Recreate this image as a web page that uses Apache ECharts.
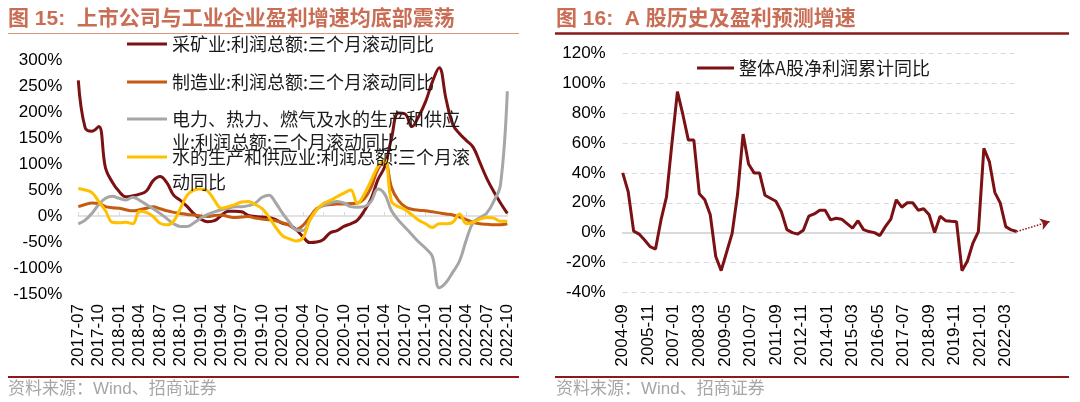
<!DOCTYPE html>
<html>
<head>
<meta charset="utf-8">
<script src="https://cdn.jsdelivr.net/npm/echarts@6/dist/echarts.min.js"></script>
<style>
html, body { margin: 0; padding: 0; background: #fff; }
#main { width: 1080px; height: 402px; }
</style>
</head>
<body>
<div id="main"></div>
<script>
/* ---------- 数据 ---------- */
// 图15：月度，2017-07 ~ 2022-10
var leftStart = '2017-07', leftEnd = '2022-10';
var seriesNames = [
    '采矿业:利润总额:三个月滚动同比',
    '制造业:利润总额:三个月滚动同比',
    '电力、热力、燃气及水的生产和供应业:利润总额:三个月滚动同比',
    '水的生产和供应业:利润总额:三个月滚动同比'
];
var mining = [261,170,163,172,92,65,47,37,39,42,48,68,76,64,40,30,18,4,-6,-11,
    -9,1,9,9,8,1,-1,-2,-3,-7,-14,-17,-26,-40,-51,-50,-45,-32,-28,-20,
    -15,-8,10,33,70,95,150,198,196,172,192,220,258,285,225,176,158,145,132,102,
    72,47,25,5];
var manufacturing = [18,22,25,24,18,16,15,12,10,12,15,18,14,10,7,5,3,2,0,-1,
    1,2,-1,-3,-2,-1,-4,-6,-7,-9,-13,-18,-26,-18,-2,14,20,22,23,23,
    24,25,33,55,90,105,55,30,18,13,11,10,8,6,4,2,-2,-7,-12,-15,
    -16,-17,-17,-15];
var utilities = [-15,-8,5,22,34,38,34,31,36,30,22,14,5,-5,-15,-20,-20,-13,-4,3,
    8,12,15,18,18,20,25,36,40,25,5,-12,-27,-28,-8,12,21,25,28,25,
    18,17,18,28,52,42,10,-8,-22,-36,-50,-62,-78,-138,-128,-108,-86,-45,-12,-3,
    6,28,60,240];
var water = [53,50,45,28,10,-12,-13,-12,-15,9,7,-1,-14,-17,-10,15,40,50,52,48,
    30,15,18,22,27,28,22,14,-2,-22,-38,-44,-48,-42,-8,12,24,30,37,44,
    50,24,42,68,95,108,28,18,12,2,-8,-15,-22,-15,-15,-12,4,-15,-12,-6,
    -3,-4,-10,-10];
var leftColors = ['#7B1113', '#C55A11', '#A6A6A6', '#FFC000'];

// 图16：季度，2004-09 ~ 2022-09
var rightStart = '2004-09', rightEnd = '2022-09';
var rightName = '整体A股净利润累计同比';
var aShare = [40,27.5,1,-1,-5,-9.4,-11,8.5,24,60,94.5,79,62,62,26,22,12,-16,-25.5,-13,
    -0.5,26,66,46,40,40,25,23,21,14,2,0,-1,1.5,11,12.5,15,15,8.5,9.6,
    9,6,3,8,2,0.7,0,-2,4,9,22,17,20,20,15,16,12,0,11,8,
    7.6,7.3,-25.5,-19,-7,0.7,56.5,47.6,27,19.7,4,1.8,0.7];
var forecastDates = ['2022-09', '2024-03'];
var forecastValues = [0.7, 7.4];

var leftTicks = [-150, 300, 50];   // min, max, interval
var rightTicks = [-40, 120, 20];

/* ---------- 工具 ---------- */
function monthRange(start, end, step) {
    var out = [];
    var y = +start.slice(0, 4), m = +start.slice(5, 7);
    while (true) {
        var s = y + '-' + (m < 10 ? '0' + m : m);
        out.push(s);
        if (s >= end) break;
        m += step;
        while (m > 12) { m -= 12; y++; }
    }
    return out;
}

var leftMonths = monthRange(leftStart, leftEnd, 1);
var rightMonths = monthRange(rightStart, rightEnd, 1);
var quarterDates = monthRange(rightStart, rightEnd, 3);
var fcMonths = monthRange(rightStart, forecastDates[1], 1);

var LATIN = "'Liberation Sans', Arial, 'Noto Sans CJK SC', sans-serif";
var CJK = "'Noto Sans CJK SC', 'Liberation Sans', sans-serif";

// 右图网格
var RX = 622.7, RW = 394, RTOP = 53.5, RH = 238.8;
var fcWidth = RW * (fcMonths.length - 1) / (rightMonths.length - 1);

function catAxisLabels(grid, data, interval, margin) {
    return {
        type: 'category', gridIndex: grid, data: data, boundaryGap: false,
        axisLine: { show: false, onZero: false },
        axisTick: { show: false },
        splitLine: { show: false },
        axisLabel: { interval: interval, rotate: 90, fontSize: 17, color: '#000', margin: margin, fontFamily: LATIN }
    };
}

// 图例：两行文字时前面补一空行，使图标与第一行对齐
function legendItem(name, top, text, lh) {
    var item = {
        data: [name], left: 127, top: top, padding: 0,
        icon: 'rect', itemWidth: 40, itemHeight: 3,
        selectedMode: false,
        textStyle: { fontSize: 18, color: '#1a1a1a', fontFamily: CJK, lineHeight: 22 }
    };
    if (text) {
        item.formatter = function () { return '\n' + text; };
        item.textStyle.lineHeight = lh;
    }
    return item;
}

var chart = echarts.init(document.getElementById('main'));

var option = {
    animation: false,
    backgroundColor: '#fff',
    title: [
        { text: '图 15:  上市公司与工业企业盈利增速均底部震荡', left: 8, top: 7, padding: 0,
          textStyle: { fontSize: 21, fontWeight: 'bold', color: '#C96D55', fontFamily: LATIN, lineHeight: 24 } },
        { text: '图 16:  A 股历史及盈利预测增速', left: 556, top: 7, padding: 0,
          textStyle: { fontSize: 21, fontWeight: 'bold', color: '#C96D55', fontFamily: LATIN, lineHeight: 24 } },
        { text: '资料来源：Wind、招商证券', left: 8, top: 379, padding: 0,
          textStyle: { fontSize: 17, fontWeight: 'normal', color: '#A6A6A6', fontFamily: LATIN, lineHeight: 20 } },
        { text: '资料来源：Wind、招商证券', left: 556, top: 379, padding: 0,
          textStyle: { fontSize: 17, fontWeight: 'normal', color: '#A6A6A6', fontFamily: LATIN, lineHeight: 20 } }
    ],
    graphic: [
        { type: 'line', shape: { x1: 8, y1: 33.5, x2: 519, y2: 33.5 }, style: { stroke: '#D9967F', lineWidth: 1.2 } },
        { type: 'line', shape: { x1: 555, y1: 33.5, x2: 1069, y2: 33.5 }, style: { stroke: '#8B1A1A', lineWidth: 2.5 } },
        { type: 'line', shape: { x1: 8, y1: 377, x2: 519, y2: 377 }, style: { stroke: '#8B1A1A', lineWidth: 2 } },
        { type: 'line', shape: { x1: 555, y1: 377, x2: 1069, y2: 377 }, style: { stroke: '#8B1A1A', lineWidth: 2 } }
    ],
    legend: [
        legendItem(seriesNames[0], 44 - 11),
        legendItem(seriesNames[1], 82 - 11),
        legendItem(seriesNames[2], 119 - 1.5 * 23, '电力、热力、燃气及水的生产和供应\n业:利润总额:三个月滚动同比', 23),
        legendItem(seriesNames[3], 157 - 1.5 * 25, '水的生产和供应业:利润总额:三个月滚\n动同比', 25),
        { data: [rightName], left: 697, top: 68 - 11, padding: 0, icon: 'rect', itemWidth: 37, itemHeight: 3,
          selectedMode: false,
          textStyle: { fontSize: 18, color: '#1a1a1a', fontFamily: CJK, lineHeight: 22 } }
    ],
    grid: [
        { left: 78.3, top: 60, width: 429, height: 234, outerBoundsMode: 'none' },
        { left: RX, top: RTOP, width: RW, height: RH, outerBoundsMode: 'none' },
        { left: RX, top: RTOP, width: fcWidth, height: RH, outerBoundsMode: 'none' }
    ],
    xAxis: [
        catAxisLabels(0, leftMonths, 2, 10),
        { type: 'category', gridIndex: 0, data: leftMonths, boundaryGap: false, position: 'top',
          axisLine: { onZero: true, lineStyle: { color: '#D9D9D9', width: 1.5 } },
          axisTick: { show: true, interval: 2, length: 4, lineStyle: { color: '#D9D9D9' } },
          axisLabel: { show: false } },
        catAxisLabels(1, rightMonths, 13, 12),
        { type: 'category', gridIndex: 1, data: rightMonths, boundaryGap: false, position: 'top',
          axisLine: { onZero: true, lineStyle: { color: '#D9D9D9', width: 2 } },
          axisTick: { show: false }, axisLabel: { show: false } },
        { type: 'category', gridIndex: 2, data: fcMonths, boundaryGap: false, show: false }
    ],
    yAxis: [
        { type: 'value', gridIndex: 0, min: leftTicks[0], max: leftTicks[1], interval: leftTicks[2],
          axisLine: { show: false }, axisTick: { show: false }, splitLine: { show: false },
          axisLabel: { formatter: '{value}%', fontSize: 17, color: '#000', margin: 16, fontFamily: LATIN } },
        { type: 'value', gridIndex: 1, min: rightTicks[0], max: rightTicks[1], interval: rightTicks[2],
          axisLine: { show: false }, axisTick: { show: false },
          splitLine: { show: true, lineStyle: { color: '#D9D9D9', type: [5, 4], width: 1 } },
          axisLabel: { formatter: '{value}%', fontSize: 17, color: '#000', margin: 17, fontFamily: LATIN } },
        { type: 'value', gridIndex: 2, min: rightTicks[0], max: rightTicks[1], show: false }
    ],
    series: []
};

[mining, manufacturing, utilities, water].forEach(function (vals, k) {
    option.series.push({
        name: seriesNames[k], type: 'line', xAxisIndex: 0, yAxisIndex: 0,
        data: vals, smooth: 0.4, symbol: 'none', showSymbol: false,
        color: leftColors[k],
        lineStyle: { width: 3, color: leftColors[k] }
    });
});

option.series.push({
    name: rightName, type: 'line', xAxisIndex: 2, yAxisIndex: 1,
    data: quarterDates.map(function (d, i) { return [d, aShare[i]]; }),
    symbol: 'none', showSymbol: false, color: '#7B1113',
    lineStyle: { width: 3, color: '#7B1113' }
});

// 预测虚线箭头
var fcIdx = forecastDates.map(function (d) { return fcMonths.indexOf(d); });
option.series.push({
    name: '预测', type: 'line', xAxisIndex: 4, yAxisIndex: 2, silent: true,
    data: fcIdx.map(function (x, i) { return [x, forecastValues[i]]; }),
    symbol: 'none', showSymbol: false, lineStyle: { width: 0, opacity: 0 },
    markLine: {
        silent: true, symbol: ['none', 'arrow'], symbolSize: 9,
        label: { show: false },
        lineStyle: { type: 'dotted', width: 1.5, color: '#8B1A1A', curveness: -0.45 },
        data: [[{ coord: [fcIdx[0], forecastValues[0]] }, { coord: [fcIdx[1], forecastValues[1]] }]]
    }
});

chart.setOption(option);
</script>
</body>
</html>
